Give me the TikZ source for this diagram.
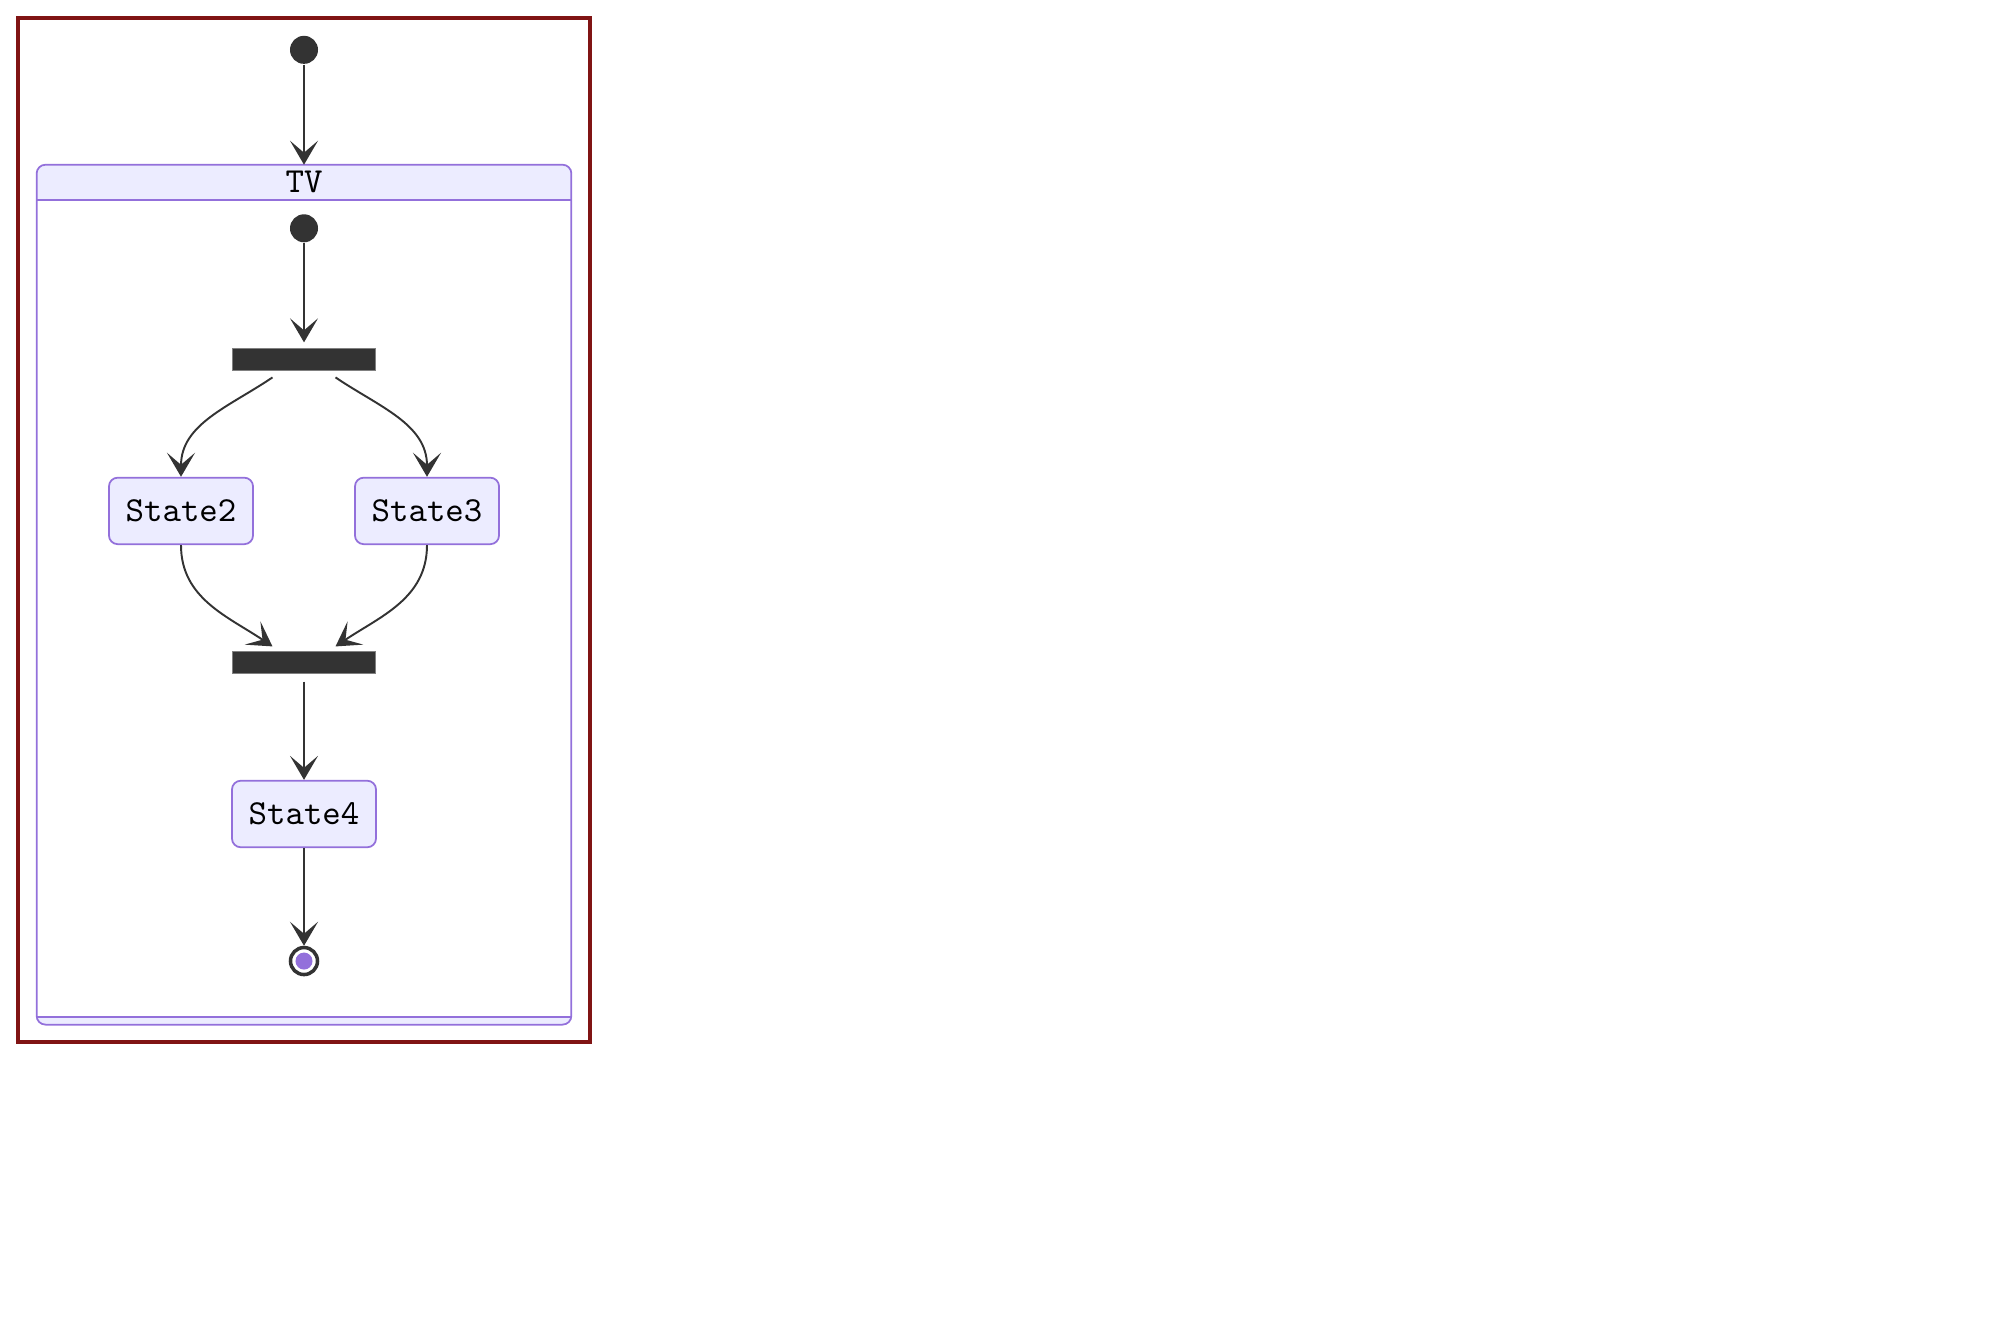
\documentclass[tikz,border=0pt]{standalone}
\usetikzlibrary{arrows.meta}
\definecolor{stdark}{HTML}{333333}
\definecolor{stpurple}{HTML}{9370DB}
\definecolor{stlav}{HTML}{ECECFF}
\definecolor{framered}{RGB}{128,20,20}
\tikzset{
  arr/.style={-{Stealth[length=0.24cm, width=0.28cm, inset=0.12cm]}, color=stdark, line width=0.55pt},
  startdot/.style={circle, fill=stdark, minimum size=0.28cm, inner sep=0pt},
  bar/.style={rectangle, fill=stdark, draw=gray, line width=0.3pt, minimum width=1.42cm, minimum height=0.22cm, inner sep=0pt},
  state/.style={rectangle, rounded corners=2.5pt, draw=stpurple, fill=stlav, line width=0.5pt,
    minimum width=1.44cm, minimum height=0.665cm, inner sep=0pt, font=\ttfamily\fontsize{10}{12}\selectfont},
  final/.style={circle, draw=stdark, line width=1pt, fill=white, minimum size=0.27cm, inner sep=0pt,
    path picture={\fill[stpurple] (path picture bounding box.center) circle[radius=0.085cm];}},
}
\begin{document}
\begin{tikzpicture}[x=0.01cm, y=-0.00997cm]
    \useasboundingbox (0,0) rectangle (2000,1324);
    \draw[framered, line width=1.2pt] (18,18) rectangle (590,1045);
    % the TV box
    \node[minimum width=5.33cm, minimum height=8.58cm, inner sep=0pt] (tv) at (304,596.5) {};
    \begin{scope}
        \clip[rounded corners=2.5pt] (tv.north west) rectangle (tv.south east);
        \fill[stlav] (tv.north west) rectangle ([yshift=-0.35cm]tv.north east);
        \fill[stlav] (tv.south west) rectangle ([yshift=0.08cm]tv.south east);
    \end{scope}
    \draw[stpurple, line width=0.5pt, rounded corners=2.5pt] (tv.north west) rectangle (tv.south east);
    \draw[stpurple, line width=0.5pt] ([yshift=-0.35cm]tv.north west) -- ([yshift=-0.35cm]tv.north east);
    \draw[stpurple, line width=0.5pt] ([yshift=0.08cm]tv.south west) -- ([yshift=0.08cm]tv.south east);
    \node[font=\ttfamily\fontsize{10}{12}\selectfont] (tvlabel) at ([yshift=-0.175cm]tv.north) {TV};

    \node[startdot] (start) at (304,50) {};
    \node[startdot] (inner) at (304,229) {};
    \node[bar] (fork) at (304,361) {};
    \node[state] (s2) at (181,512.5) {State2};
    \node[state] (s3) at (427,512.5) {State3};
    \node[bar] (join) at (304,665) {};
    \node[state] (s4) at (304,816.5) {State4};
    \node[final] (end) at (304,964) {};

    \draw [arr] (start) -- (tv.north);
    \draw [arr] (inner) -- ([yshift=0.06cm]fork.north);
    \draw [arr] ([xshift=-0.315cm, yshift=-0.06cm]fork.south) to[out=-146, in=90] (s2.north);
    \draw [arr] ([xshift=0.315cm, yshift=-0.06cm]fork.south) to[out=-34, in=90] (s3.north);
    \draw [arr] (s2.south) to[out=-90, in=146] ([xshift=-0.315cm, yshift=0.05cm]join.north);
    \draw [arr] (s3.south) to[out=-90, in=34] ([xshift=0.315cm, yshift=0.05cm]join.north);
    \draw [arr] ([yshift=-0.07cm]join.south) -- (s4.north);
    \draw [arr] (s4.south) -- (end.north);
\end{tikzpicture}
\end{document}
